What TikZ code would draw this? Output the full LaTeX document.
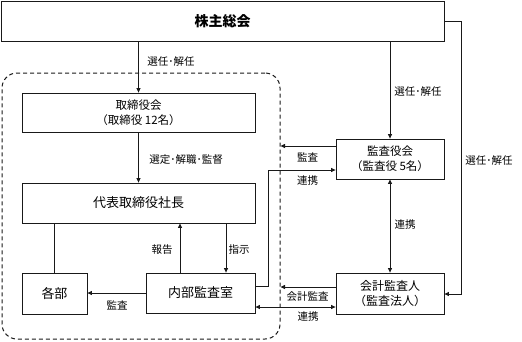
\documentclass[tikz,border=0pt]{standalone}
\usepackage{fontspec}
\setmainfont{Noto Sans CJK JP}
\usetikzlibrary{arrows.meta,calc}
\begin{document}
\begin{tikzpicture}[x=1pt,y=-1pt,
  line width=0.8pt, color=black!90,
  box/.style={draw=black!90, fill=white, inner sep=0pt, align=center, text=black, font=\fontsize{12}{15}\selectfont},
  arr/.style={-{Triangle[length=4.5pt,width=4pt]}},
  barr/.style={{Triangle[length=4.5pt,width=4pt]}-{Triangle[length=4.5pt,width=4pt]}},
  lbl/.style={font=\fontsize{10.5}{12}\selectfont, text=black, inner sep=0pt}]
\useasboundingbox (0,0) rectangle (522,341);
% group
\node[draw=black!90, line width=1pt, dash pattern=on 4pt off 3pt, rounded corners=15pt, minimum width=278pt, minimum height=266pt] (grp) at (141,206) {};
% boxes
\node[box, minimum width=443pt, minimum height=40pt, font=\fontsize{14}{16}\selectfont\bfseries] (kabu) at (222.5,21) {株主総会};
\node[box, minimum width=233pt, minimum height=39pt, font=\fontsize{11.5}{15}\selectfont] (tori) at (138.5,112.5) {取締役会\\（取締役 12名）};
\node[box, minimum width=233pt, minimum height=40pt, font=\fontsize{13}{15}\selectfont] (dai) at (138.5,203) {代表取締役社長};
\node[box, minimum width=65pt, minimum height=41pt, font=\fontsize{13}{15}\selectfont] (kakubu) at (54.5,293.5) {各部};
\node[box, minimum width=109pt, minimum height=40pt, font=\fontsize{13}{15}\selectfont] (naibu) at (200.5,293) {内部監査室};
\node[box, minimum width=108pt, minimum height=40pt, font=\fontsize{11.5}{15}\selectfont] (kansa) at (390,159) {監査役会\\（監査役 5名）};
\node[box, minimum width=108pt, minimum height=41pt, font=\fontsize{12}{15}\selectfont] (kaikei) at (390,293.5) {会計監査人\\（監査法人）};
% helper coordinates
\coordinate (r1) at ($(naibu.north)+(-20.5,0)$);
\coordinate (s1) at ($(dai.south)+(87.5,0)$);
\coordinate (n1) at ($(naibu.east)+(0,-7)$);
\coordinate (c1) at (268,170);
\coordinate (k1) at ($(kansa.west)+(0,-13)$);
\coordinate (k2) at ($(kaikei.west)+(0,-6.5)$);
\coordinate (n2) at ($(naibu.east)+(0,14)$);
\coordinate (c2) at (461,294);
% connectors
\draw[arr] (kabu.south -| tori.north) -- (tori.north);
\draw[arr] (tori.south) -- (dai.north);
\draw (dai.south -| kakubu.north) -- (kakubu.north);
\draw[arr] (r1) -- (r1 |- dai.south);
\draw[arr] (s1) -- (s1 |- naibu.north);
\draw[arr] (naibu.west) -- (naibu.west -| kakubu.east);
\draw[arr] (n1) -| (c1) -- (c1 -| kansa.west);
\draw[arr] (k1) -- (k1 -| grp.east);
\draw[arr] (kansa.north |- kabu.south) -- (kansa.north);
\draw[barr] (kansa.south) -- (kaikei.north);
\draw[arr] (k2) -- (k2 -| grp.east);
\draw[barr] (n2) -- (n2 -| kaikei.west);
\draw[arr] (kabu.east) -| (c2) -- (c2 -| kaikei.east);
% labels
\node[lbl] (l1) at (171,62) {選任･解任};
\node[lbl] (l2) at (186,160) {選定･解職･監督};
\node[lbl] (l3) at (162,250) {報告};
\node[lbl] (l4) at (239,250) {指示};
\node[lbl] (l5) at (117,305) {監査};
\node[lbl] (l6) at (307.5,157) {監査};
\node[lbl] (l7) at (307.5,181) {連携};
\node[lbl] (l8) at (418,92) {選任･解任};
\node[lbl] (l9) at (489,161) {選任･解任};
\node[lbl] (l10) at (405,225) {連携};
\node[lbl] (l11) at (307.5,297) {会計監査};
\node[lbl] (l12) at (308,317) {連携};
\end{tikzpicture}
\end{document}
